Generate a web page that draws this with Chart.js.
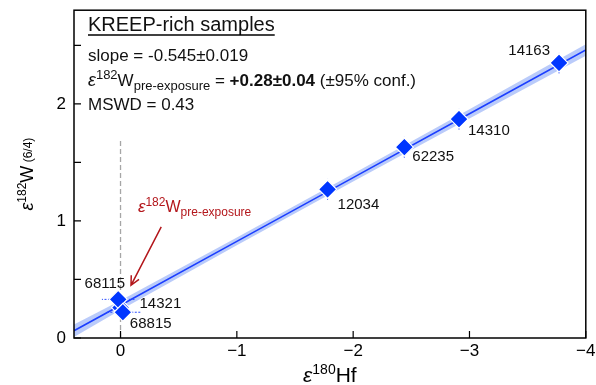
<!DOCTYPE html>
<html>
<head>
<meta charset="utf-8">
<script src="https://cdn.jsdelivr.net/npm/chart.js@4/dist/chart.umd.min.js"></script>
<style>
  html, body { margin: 0; padding: 0; background: #fff; }
  #wrap { width: 596px; height: 385px; }
</style>
</head>
<body>
<div id="wrap"><canvas id="isoChart"></canvas></div>
<script>
// sample data
var sampleNames = ['14321', '68115', '68815', '12034', '62235', '14310', '14163'];
var hfValues = [0.00, 0.02, -0.02, -1.78, -2.44, -2.91, -3.77];   // eps180Hf
var wValues = [0.26, 0.33, 0.22, 1.27, 1.63, 1.87, 2.35];        // eps182W
var hfErr = [0.05, 0.14, 0.15, 0.03, 0.03, 0.03, 0.03];
var wErr = [0.05, 0.06, 0.06, 0.09, 0.09, 0.09, 0.09];

// regression line + 95% band
var fitX = [0.4, 0, -1, -2, -3, -4];
var fitY = [0.062, 0.28, 0.825, 1.37, 1.915, 2.46];
var bandUpper = [0.115, 0.32, 0.858, 1.403, 1.955, 2.51];
var bandLower = [0.009, 0.24, 0.792, 1.337, 1.875, 2.41];

// dashed marker at eps180Hf = 0
var zeroX = [0, 0];
var zeroY = [0, 1.70];

var xTicks = [0, -1, -2, -3, -4];
var yTicks = [0, 1, 2];

function pts(xs, ys) {
    return xs.map(function (x, i) { return { x: x, y: ys[i] }; });
}

function minus(v) {
    return v < 0 ? '\u2212' + Math.abs(v) : String(v);
}

var fontName = '"Liberation Sans", Arial, sans-serif';

// label offsets (px) for each sample, in the same order as sampleNames
var labelPos = [
    { dx: 19, dy: -4, align: 'left' },
    { dx: 7, dy: -16, align: 'right' },
    { dx: 7, dy: 12, align: 'left' },
    { dx: 10, dy: 16, align: 'left' },
    { dx: 8, dy: 10, align: 'left' },
    { dx: 9, dy: 12, align: 'left' },
    { dx: -9, dy: -12, align: 'right' }
];

// draw a run of text pieces: [text, size, style, dy]
function drawRun(ctx, parts, x, y) {
    parts.forEach(function (p) {
        ctx.font = (p[2] || '') + ' ' + p[1] + 'px ' + fontName;
        ctx.fillText(p[0], x, y + (p[3] || 0));
        x += ctx.measureText(p[0]).width;
    });
    return x;
}

function runWidth(ctx, parts) {
    var w = 0;
    parts.forEach(function (p) {
        ctx.font = (p[2] || '') + ' ' + p[1] + 'px ' + fontName;
        w += ctx.measureText(p[0]).width;
    });
    return w;
}

var decorPlugin = {
    id: 'decor',
    beforeDatasetDraw: function (chart, args) {
        if (args.index !== 0) return;
        // error bars under the diamonds
        var ctx = chart.ctx, xs = chart.scales.x, ys = chart.scales.y;
        ctx.save();
        ctx.strokeStyle = '#2a4dff';
        ctx.lineWidth = 1;
        ctx.setLineDash([2, 1.5]);
        hfValues.forEach(function (h, i) {
            var px = xs.getPixelForValue(h), py = ys.getPixelForValue(wValues[i]);
            ctx.beginPath();
            ctx.moveTo(xs.getPixelForValue(h - hfErr[i]), py);
            ctx.lineTo(xs.getPixelForValue(h + hfErr[i]), py);
            ctx.moveTo(px, ys.getPixelForValue(wValues[i] - wErr[i]));
            ctx.lineTo(px, ys.getPixelForValue(wValues[i] + wErr[i]));
            ctx.stroke();
        });
        ctx.restore();
    },
    afterDraw: function (chart) {
        var ctx = chart.ctx, a = chart.chartArea;
        var xs = chart.scales.x, ys = chart.scales.y;
        ctx.save();

        // frame + inward ticks
        ctx.strokeStyle = '#000';
        ctx.lineWidth = 1.5;
        ctx.strokeRect(a.left, a.top, a.right - a.left, a.bottom - a.top);
        ctx.lineWidth = 1.2;
        ctx.beginPath();
        xTicks.forEach(function (v) {
            var px = xs.getPixelForValue(v);
            ctx.moveTo(px, a.bottom);
            ctx.lineTo(px, a.bottom - 7);
        });
        ys.ticks.forEach(function (t) {
            var py = ys.getPixelForValue(t.value);
            ctx.moveTo(a.left, py);
            ctx.lineTo(a.left + 7, py);
        });
        ctx.stroke();

        // sample labels
        ctx.fillStyle = '#111';
        ctx.font = '15px ' + fontName;
        ctx.textBaseline = 'middle';
        sampleNames.forEach(function (name, i) {
            var lp = labelPos[i];
            ctx.textAlign = lp.align;
            ctx.fillText(name, xs.getPixelForValue(hfValues[i]) + lp.dx,
                ys.getPixelForValue(wValues[i]) + lp.dy);
        });

        // text block
        ctx.textAlign = 'left';
        ctx.textBaseline = 'alphabetic';
        var x0 = a.left + 14;
        ctx.font = '20px ' + fontName;
        ctx.fillText('KREEP-rich samples', x0, 31);
        var w = ctx.measureText('KREEP-rich samples').width;
        ctx.lineWidth = 1.3;
        ctx.beginPath();
        ctx.moveTo(x0, 35);
        ctx.lineTo(x0 + w, 35);
        ctx.stroke();
        ctx.font = '17px ' + fontName;
        ctx.fillText('slope = -0.545\u00b10.019', x0, 61);
        drawRun(ctx, [
            ['\u03b5', 18, 'italic'], ['182', 13, '', -7], ['W', 17], ['pre-exposure', 13, '', 4],
            [' = ', 17], ['+0.28\u00b10.04', 17, 'bold'], [' (\u00b195% conf.)', 17]
        ], x0, 86);
        ctx.font = '17px ' + fontName;
        ctx.fillText('MSWD = 0.43', x0, 110);

        // red annotation
        var tipX = xs.getPixelForValue(-0.09), tipY = ys.getPixelForValue(0.45);
        var tailX = xs.getPixelForValue(-0.35), tailY = ys.getPixelForValue(0.95);
        ctx.strokeStyle = '#b3161b';
        ctx.fillStyle = '#b3161b';
        ctx.lineWidth = 1.5;
        ctx.beginPath();
        ctx.moveTo(tailX, tailY);
        ctx.lineTo(tipX, tipY);
        var ang = Math.atan2(tipY - tailY, tipX - tailX);
        ctx.moveTo(tipX - 10 * Math.cos(ang - 0.45), tipY - 10 * Math.sin(ang - 0.45));
        ctx.lineTo(tipX, tipY);
        ctx.lineTo(tipX - 10 * Math.cos(ang + 0.45), tipY - 10 * Math.sin(ang + 0.45));
        ctx.stroke();
        drawRun(ctx, [['\u03b5', 17, 'italic'], ['182', 12, '', -6], ['W', 16], ['pre-exposure', 12, '', 4]],
            xs.getPixelForValue(-0.15), ys.getPixelForValue(1.08));

        // axis titles
        ctx.fillStyle = '#000';
        var xParts = [['\u03b5', 21, 'italic'], ['180', 14, '', -8], ['Hf', 21]];
        var wx = runWidth(ctx, xParts);
        drawRun(ctx, xParts, (a.left + a.right) / 2 - wx / 2, 382);

        var yParts = [['\u03b5', 18, 'italic'], ['182', 12, '', -7], ['W', 18], [' (6/4)', 12, '', -1]];
        var wy = runWidth(ctx, yParts);
        ctx.translate(33, (a.top + a.bottom) / 2);
        ctx.rotate(-Math.PI / 2);
        drawRun(ctx, yParts, -wy / 2, 0);
        ctx.restore();
    }
};

var ctx = document.getElementById('isoChart').getContext('2d');

var isoChart = new Chart(ctx, {
    type: 'scatter',
    data: {
        datasets: [
            {   // samples
                data: pts(hfValues, wValues),
                pointStyle: 'rectRot',
                pointRadius: 9,
                backgroundColor: '#0036ff',
                borderColor: '#ffffff',
                borderWidth: 1.2,
                order: 0
            },
            {   // regression
                type: 'line',
                data: pts(fitX, fitY),
                borderColor: '#1c3fff',
                borderWidth: 1.6,
                pointRadius: 0,
                fill: false,
                order: 1
            },
            {   // vertical dashed
                type: 'line',
                data: pts(zeroX, zeroY),
                borderColor: '#a6a6a6',
                borderWidth: 1.3,
                borderDash: [5, 3],
                pointRadius: 0,
                fill: false,
                order: 2
            },
            {   // band upper
                type: 'line',
                data: pts(fitX, bandUpper),
                borderWidth: 0,
                borderColor: 'rgba(0,0,0,0)',
                backgroundColor: 'rgba(130,160,245,0.55)',
                pointRadius: 0,
                fill: '+1',
                order: 3
            },
            {   // band lower
                type: 'line',
                data: pts(fitX, bandLower),
                borderWidth: 0,
                borderColor: 'rgba(0,0,0,0)',
                pointRadius: 0,
                fill: false,
                order: 4
            }
        ]
    },
    options: {
        responsive: true,
        maintainAspectRatio: false,
        animation: false,
        layout: { padding: { top: 10, right: 10, left: 0, bottom: 0 } },
        plugins: {
            legend: { display: false },
            tooltip: { enabled: false }
        },
        scales: {
            x: {
                type: 'linear',
                reverse: true,
                min: -4,
                max: 0.4,
                grid: { display: false, drawTicks: false },
                border: { display: false },
                afterBuildTicks: function (s) {
                    s.ticks = xTicks.map(function (v) { return { value: v }; });
                },
                afterFit: function (s) {
                    s.height = 47;
                    s.paddingLeft = 0;
                    s.paddingRight = 0;
                },
                ticks: {
                    padding: 3,
                    color: '#000',
                    font: { family: fontName, size: 17 },
                    callback: function (v) { return minus(v); }
                }
            },
            y: {
                type: 'linear',
                min: 0,
                max: 2.8,
                grid: { display: false, drawTicks: false },
                border: { display: false },
                afterBuildTicks: function (s) {
                    s.ticks = [0, 0.5, 1, 1.5, 2, 2.5].map(function (v) { return { value: v }; });
                },
                afterFit: function (s) {
                    s.width = 74;
                    s.paddingTop = 0;
                    s.paddingBottom = 0;
                },
                ticks: {
                    padding: 8,
                    color: '#000',
                    font: { family: fontName, size: 17 },
                    callback: function (v) { return yTicks.indexOf(v) >= 0 ? String(v) : ''; }
                }
            }
        }
    },
    plugins: [decorPlugin]
});
</script>
</body>
</html>
